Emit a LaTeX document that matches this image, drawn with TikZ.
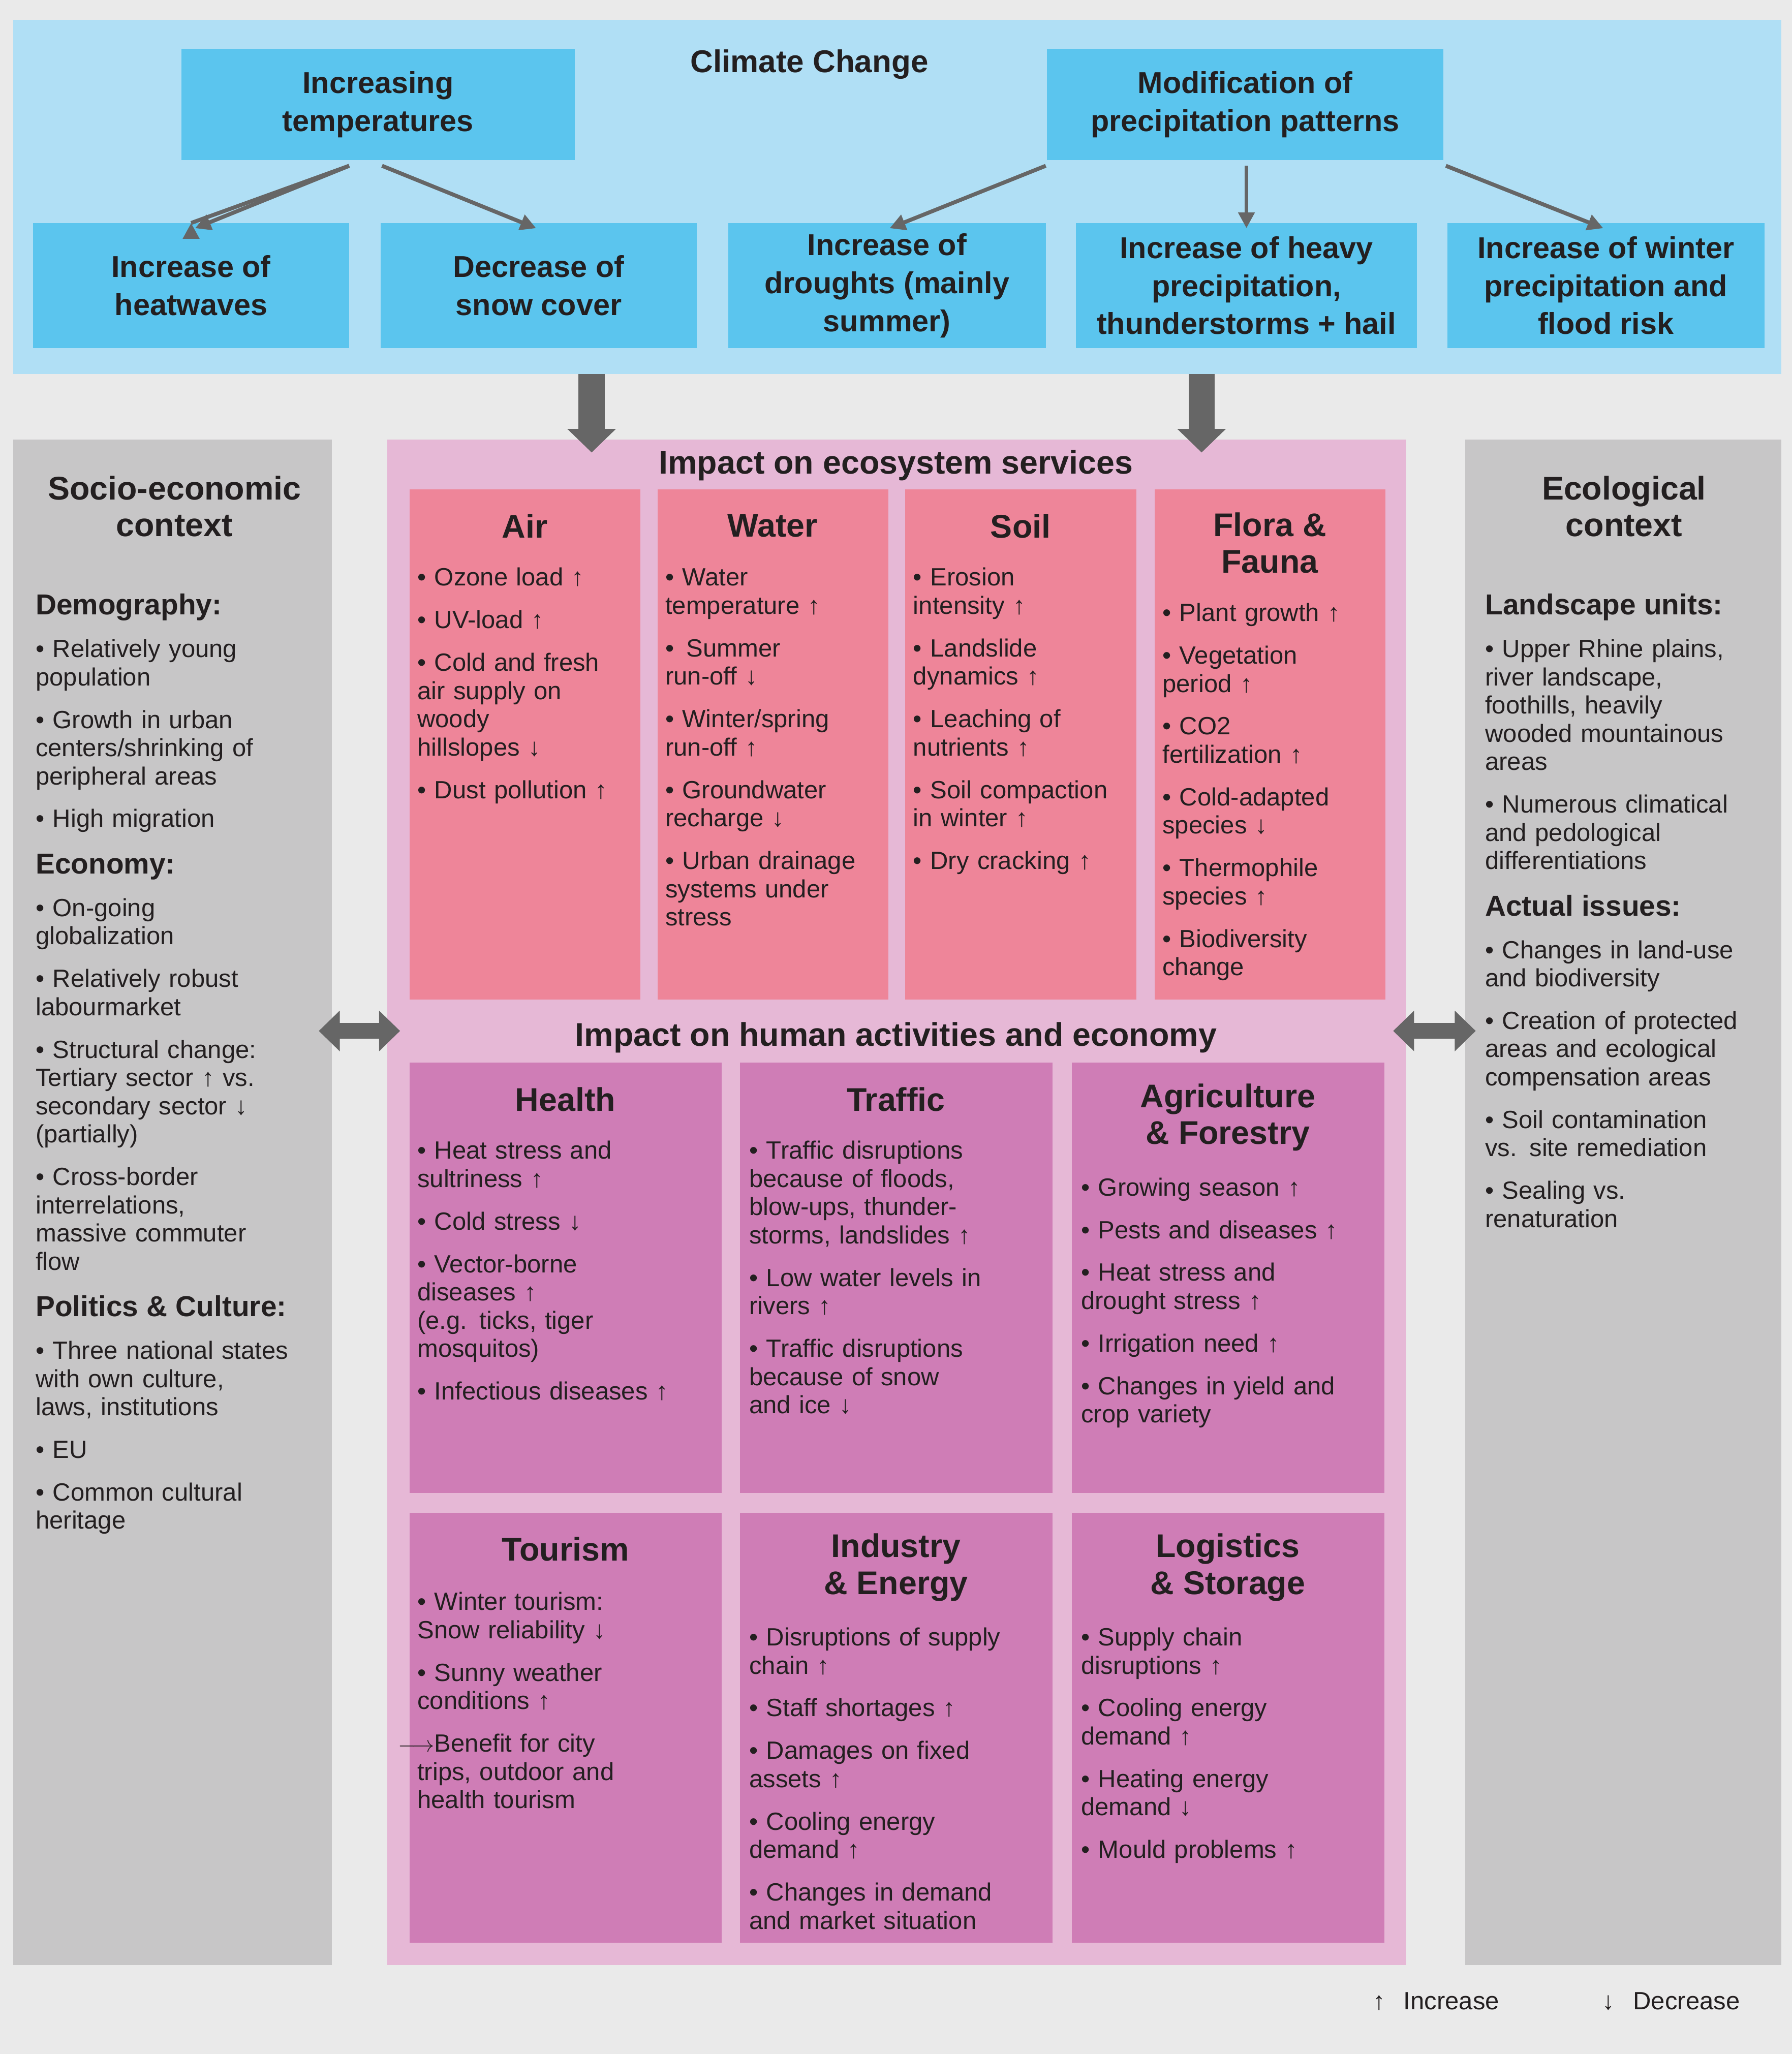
\documentclass[tikz,border=0pt]{standalone}
\usepackage{fontspec}
\setmainfont{Liberation Sans}
\usetikzlibrary{arrows.meta}
\definecolor{bg}{HTML}{EAEAEA}
\definecolor{band}{HTML}{B0DFF5}
\definecolor{bbox}{HTML}{5BC5EE}
\definecolor{side}{HTML}{C7C6C7}
\definecolor{panel}{HTML}{E6B8D6}
\definecolor{eco}{HTML}{EE8599}
\definecolor{hum}{HTML}{CF7DB6}
\definecolor{arr}{HTML}{666666}
\definecolor{ink}{HTML}{231F20}
\newcommand\bu{\par\addvspace{11pt}\hangindent=13pt\hangafter=1\noindent\hbox to 13pt{\textbullet\hfil}}
\newcommand\ba{\par\addvspace{11pt}\hangindent=13pt\hangafter=1\noindent\hbox to 13pt{\hss$\longrightarrow$}}
\newcommand\hd[1]{\par\addvspace{14pt}\noindent{\fontsize{22}{26}\selectfont\bfseries #1}\par\addvspace{2pt}}
\tikzset{
 x=1pt,y=-1pt,
 bl/.style={fill=bbox,text=ink,font=\fontsize{23}{29}\selectfont\bfseries,align=center,inner sep=0,anchor=north west},
 ttl/.style={text=ink,font=\fontsize{25}{28}\selectfont\bfseries,align=center},
 body/.style={anchor=north west,text=ink,align=left,inner sep=0,font=\fontsize{19}{21.5}\selectfont},
 thin/.style={draw=arr,line width=3pt,-{Triangle[length=12pt,width=12pt]}},
 thick/.style={draw=arr,line width=20pt,-{Triangle[length=18pt,width=36pt]}},
 dbl/.style={draw=arr,line width=12pt,{Triangle[length=16pt,width=30pt]}-{Triangle[length=16pt,width=30pt]}},
}
\begin{document}
\begin{tikzpicture}
\useasboundingbox (0,0) rectangle (1366,1566);
\fill[bg] (0,0) rectangle (1366,1566);
\fill[band] (10,15) rectangle (1358,285);
% blue nodes
\node[bl,minimum width=300,minimum height=85] (it) at (138,37) {Increasing\\temperatures};
\node[bl,minimum width=302,minimum height=85] (mp) at (798,37) {Modification of\\precipitation patterns};
\node[ttl,font=\fontsize{24}{28}\selectfont\bfseries] (cc) at (617,49) {Climate Change};
\node[bl,minimum width=241,minimum height=95] (hw) at (25,170) {Increase of\\heatwaves};
\node[bl,minimum width=241,minimum height=95] (sc) at (290,170) {Decrease of\\snow cover};
\node[bl,minimum width=242,minimum height=95] (dr) at (555,170) {Increase of\\droughts (mainly\\summer)};
\node[bl,minimum width=260,minimum height=95] (hp) at (820,170) {Increase of heavy\\precipitation,\\thunderstorms + hail};
\node[bl,minimum width=242,minimum height=95] (wp) at (1103,170) {Increase of winter\\precipitation and\\flood risk};
\draw[thin] (it.south) ++(-22,4) -- (hw.north) ++(0,0);
\draw[thin] ([xshift=-22pt,yshift=-4pt]it.south) -- ([xshift=3pt,yshift=-4pt]hw.north);
\draw[thin] ([xshift=3pt,yshift=-4pt]it.south) -- ([xshift=-2pt,yshift=-4pt]sc.north);
\draw[thin] ([xshift=-152pt,yshift=-4pt]mp.south) -- ([xshift=2pt,yshift=-4pt]dr.north);
\draw[thin] ([xshift=1pt,yshift=-4pt]mp.south) -- ([yshift=-4pt]hp.north);
\draw[thin] ([xshift=153pt,yshift=-4pt]mp.south) -- ([xshift=-2pt,yshift=-4pt]wp.north);
% panels
\fill[side] (10,335) rectangle (253,1498);
\fill[side] (1117,335) rectangle (1358,1498);
\node[fill=panel,minimum width=777,minimum height=1163,inner sep=0,anchor=north west] (pn) at (295,335) {};
\coordinate (a1) at (451,285); \coordinate (a2) at (916,285);
\draw[thick] (a1) -- (451,345);
\draw[thick] (a2) -- (916,345);
\node[ttl] (ie) at (683,355) {Impact on ecosystem services};
\node[ttl] (ih) at (683,791) {Impact on human activities and economy};
\coordinate (l1) at (243,786); \coordinate (l2) at (305,786);
\coordinate (r1) at (1062,786); \coordinate (r2) at (1125,786);
\draw[dbl] (l1) -- (l2);
\draw[dbl] (r1) -- (r2);
% side texts
\node[ttl] (sx) at (133,386) {Socio-economic\\context};
\node[body,text width=230] (st) at (27,433) {\hd{Demography:}
\bu Relatively young\\population
\bu Growth in urban\\centers/shrinking of\\peripheral areas
\bu High migration
\hd{Economy:}
\bu On-going\\globalization
\bu Relatively robust\\labourmarket
\bu Structural change:\\Tertiary sector ↑ vs.\\secondary sector ↓\\(partially)
\bu Cross-border\\interrelations,\\massive commuter\\flow
\hd{Politics \& Culture:}
\bu Three national states\\with own culture,\\laws, institutions
\bu EU
\bu Common cultural\\heritage};
\node[ttl] (ex) at (1238,386) {Ecological\\context};
\node[body,text width=230] (et) at (1132,433) {\hd{Landscape units:}
\bu Upper Rhine plains,\\river landscape,\\foothills, heavily\\wooded mountainous\\areas
\bu Numerous climatical\\and pedological\\differentiations
\hd{Actual issues:}
\bu Changes in land-use\\and biodiversity
\bu Creation of protected\\areas and ecological\\compensation areas
\bu Soil contamination\\vs. site remediation
\bu Sealing vs.\\renaturation};
% ecosystem boxes
\foreach \x/\n in {312/air,501/wat,690/soi,880/flo}{
 \node[fill=eco,minimum width=176,minimum height=389,inner sep=0,anchor=north west] (\n) at (\x,373) {};}
\node[ttl] (airt) at (400,401) {Air};
\node[ttl] (watt) at (589,401) {Water};
\node[ttl] (soit) at (778,401) {Soil};
\node[ttl] (flot) at (968,414) {Flora \&\\Fauna};
\node[body,text width=170] (airb) at (318,414) {\bu Ozone load ↑
\bu UV-load ↑
\bu Cold and fresh\\air supply on\\woody\\hillslopes ↓
\bu Dust pollution ↑};
\node[body,text width=170] (watb) at (507,414) {\bu Water\\temperature ↑
\bu \,Summer\\run-off ↓
\bu Winter/spring\\run-off ↑
\bu Groundwater\\recharge ↓
\bu Urban drainage\\systems under\\stress};
\node[body,text width=170] (soib) at (696,414) {\bu Erosion\\intensity ↑
\bu Landslide\\dynamics ↑
\bu Leaching of\\nutrients ↑
\bu Soil compaction\\in winter ↑
\bu Dry cracking ↑};
\node[body,text width=170] (flob) at (886,441) {\bu Plant growth ↑
\bu Vegetation\\period ↑
\bu CO2\\fertilization ↑
\bu Cold-adapted\\species ↓
\bu Thermophile\\species ↑
\bu Biodiversity\\change};
% human boxes
\foreach \x/\n in {312/hea,564/tra,817/agr}{
 \node[fill=hum,minimum width=238,minimum height=328,inner sep=0,anchor=north west] (\n) at (\x,810) {};}
\foreach \x/\n in {312/tou,564/ind,817/log}{
 \node[fill=hum,minimum width=238,minimum height=328,inner sep=0,anchor=north west] (\n) at (\x,1153) {};}
\node[ttl] (heat) at (431,838) {Health};
\node[ttl] (trat) at (683,838) {Traffic};
\node[ttl] (agrt) at (936,852) {Agriculture\\\& Forestry};
\node[ttl] (tout) at (431,1181) {Tourism};
\node[ttl] (indt) at (683,1195) {Industry\\\& Energy};
\node[ttl] (logt) at (936,1195) {Logistics\\\& Storage};
\node[body,text width=228] (heab) at (318,851) {\bu Heat stress and\\sultriness ↑
\bu Cold stress ↓
\bu Vector-borne\\diseases ↑\\(e.g. ticks, tiger\\mosquitos)
\bu Infectious diseases ↑};
\node[body,text width=228] (trab) at (571,851) {\bu Traffic disruptions\\because of floods,\\blow-ups, thunder-\\storms, landslides ↑
\bu Low water levels in\\rivers ↑
\bu Traffic disruptions\\because of snow\\and ice ↓};
\node[body,text width=228] (agrb) at (824,879) {\bu Growing season ↑
\bu Pests and diseases ↑
\bu Heat stress and\\drought stress ↑
\bu Irrigation need ↑
\bu Changes in yield and\\crop variety};
\node[body,text width=228] (toub) at (318,1195) {\bu Winter tourism:\\Snow reliability ↓
\bu Sunny weather\\conditions ↑
\ba Benefit for city\\trips, outdoor and\\health tourism};
\node[body,text width=228] (indb) at (571,1222) {\bu Disruptions of supply\\chain ↑
\bu Staff shortages ↑
\bu Damages on fixed\\assets ↑
\bu Cooling energy\\demand ↑
\bu Changes in demand\\and market situation};
\node[body,text width=228] (logb) at (824,1222) {\bu Supply chain\\disruptions ↑
\bu Cooling energy\\demand ↑
\bu Heating energy\\demand ↓
\bu Mould problems ↑};
% legend
\node[text=ink,font=\fontsize{19}{21}\selectfont,anchor=west] (li) at (1043,1526) {↑\hspace{14pt}Increase};
\node[text=ink,font=\fontsize{19}{21}\selectfont,anchor=west] (ld) at (1218,1526) {↓\hspace{14pt}Decrease};
\end{tikzpicture}
\end{document}
